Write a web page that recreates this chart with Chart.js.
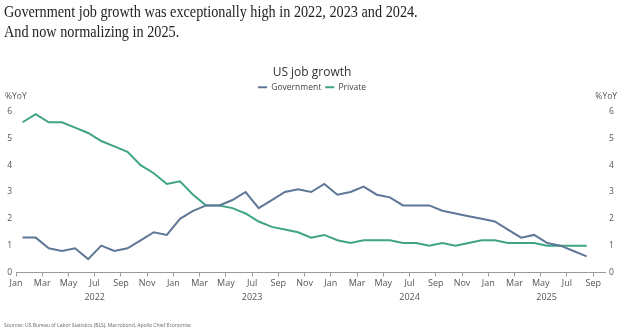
<!DOCTYPE html>
<html>
<head>
<meta charset="utf-8">
<script src="https://cdn.jsdelivr.net/npm/chart.js@4.4.1/dist/chart.umd.min.js"></script>
<style>
  html, body { margin: 0; padding: 0; background: #fff; }
  #wrap { position: relative; width: 624px; height: 331px; overflow: hidden; }
  #headline {
    position: absolute; left: 4px; top: 2px;
    font-family: "Liberation Serif", serif; font-size: 16px; line-height: 20px;
    color: #222; white-space: nowrap;
    transform: scaleX(0.89); transform-origin: 0 0;
  }
  #source {
    position: absolute; left: 4px; top: 322px;
    font-family: "Open Sans", sans-serif; font-size: 5px; color: #666; white-space: nowrap;
  }
  canvas { position: absolute; left: 0; top: 0; }
</style>
</head>
<body>
<div id="wrap">
  <canvas id="chart" width="624" height="331"></canvas>
  <div id="headline">Government job growth was exceptionally high in 2022, 2023 and 2024.<br>And now normalizing in 2025.</div>
  <div id="source">Sources: US Bureau of Labor Statistics (BLS), Macrobond, Apollo Chief Economist</div>
</div>
<script>
// monthly YoY % change, Jan 2022 .. Aug 2025
const government = [
  1.3, 1.3, 0.9, 0.8, 0.9, 0.5, 1.0, 0.8, 0.9, 1.2, 1.5, 1.4,
  2.0, 2.3, 2.5, 2.5, 2.7, 3.0, 2.4, 2.7, 3.0, 3.1, 3.0, 3.3,
  2.9, 3.0, 3.2, 2.9, 2.8, 2.5, 2.5, 2.5, 2.3, 2.2, 2.1, 2.0,
  1.9, 1.6, 1.3, 1.4, 1.1, 1.0, 0.8, 0.6
];
const privateSector = [
  5.6, 5.9, 5.6, 5.6, 5.4, 5.2, 4.9, 4.7, 4.5, 4.0, 3.7, 3.3,
  3.4, 2.9, 2.5, 2.5, 2.4, 2.2, 1.9, 1.7, 1.6, 1.5, 1.3, 1.4,
  1.2, 1.1, 1.2, 1.2, 1.2, 1.1, 1.1, 1.0, 1.1, 1.0, 1.1, 1.2,
  1.2, 1.1, 1.1, 1.1, 1.0, 1.0, 1.0, 1.0
];
const monthNames = ['Jan','Feb','Mar','Apr','May','Jun','Jul','Aug','Sep','Oct','Nov','Dec'];
const years = [2022, 2023, 2024, 2025];
const yTicks = [0, 1, 2, 3, 4, 5, 6];
// month index of each labelled tick (every other month, Jan 2022 = 0)
const monthTicks = [0, 2, 4, 6, 8, 10, 12, 14, 16, 18, 20, 22, 24, 26, 28, 30, 32, 34, 36, 38, 40, 42, 44];

const GOV = '#5f7796';
const PRIV = '#3fa386';
const AXIS = '#9a9a9a';
const TXT = '#555';

// values sit in the middle of their month
const toPoints = arr => arr.map((v, i) => ({ x: i + 0.5, y: v }));

// leave a gap between the legend row and the plot
const legendGap = {
  id: 'legendGap',
  beforeInit(chart) {
    const fit = chart.legend.fit;
    chart.legend.fit = function () {
      fit.bind(chart.legend)();
      this.height += 10;
    };
  }
};

const extras = {
  id: 'extras',
  afterDraw(chart) {
    const { ctx, scales } = chart;
    const xs = scales.x;
    ctx.save();
    ctx.fillStyle = TXT;
    ctx.font = '8.5px "Open Sans", sans-serif';
    ctx.textBaseline = 'middle';
    ctx.textAlign = 'left';
    ctx.fillText('%YoY', 5, 97);
    ctx.textAlign = 'right';
    ctx.fillText('%YoY', 617, 97);

    // year captions centred under each year's span
    ctx.font = '9px "Open Sans", sans-serif';
    ctx.textAlign = 'center';
    years.forEach((yr, k) => {
      const a = Math.max(k * 12, xs.min);
      const b = Math.min(k * 12 + 12, xs.max);
      const mid = (xs.getPixelForValue(a) + xs.getPixelForValue(b)) / 2;
      ctx.fillText(String(yr), mid, 297);
    });
    ctx.restore();
  }
};

const yAxis = (position) => ({
  type: 'linear',
  position,
  min: 0,
  max: 6,
  afterBuildTicks: s => { s.ticks = yTicks.map(v => ({ value: v })); },
  afterFit: s => { s.width = position === 'left' ? 16 : 19; },
  grid: { display: false, drawTicks: false },
  border: { display: false },
  ticks: { color: TXT, font: { family: 'Open Sans', size: 8.5 }, padding: 4 }
});

new Chart(document.getElementById('chart').getContext('2d'), {
  type: 'line',
  data: {
    datasets: [
      { label: 'Government', data: toPoints(government), borderColor: GOV, backgroundColor: GOV,
        borderWidth: 2, pointRadius: 0, tension: 0, yAxisID: 'y' },
      { label: 'Private', data: toPoints(privateSector), borderColor: PRIV, backgroundColor: PRIV,
        borderWidth: 2, pointRadius: 0, tension: 0, yAxisID: 'y' }
    ]
  },
  options: {
    responsive: false,
    animation: false,
    layout: { padding: { top: 0, left: 0, right: 0, bottom: 0 } },
    plugins: {
      title: {
        display: true,
        text: 'US job growth',
        color: '#333',
        font: { family: 'Open Sans', size: 12, weight: 'normal', lineHeight: 1 },
        padding: { top: 67, bottom: 0 }
      },
      legend: {
        display: true,
        position: 'top',
        labels: {
          color: '#444',
          font: { family: 'Open Sans', size: 8.5 },
          boxWidth: 9,
          boxHeight: 2,
          padding: 4,
          generateLabels: chart => Chart.defaults.plugins.legend.labels.generateLabels(chart)
            .map(l => Object.assign(l, { lineWidth: 0 }))
        }
      },
      tooltip: { enabled: false }
    },
    scales: {
      x: {
        type: 'linear',
        min: 0,
        max: 44.9,
        afterBuildTicks: s => { s.ticks = monthTicks.map(v => ({ value: v })); },
        afterFit: s => { s.height = 58.5; },
        grid: { display: true, drawOnChartArea: false, drawTicks: true, tickLength: 4, color: AXIS },
        border: { display: true, color: AXIS, width: 1 },
        ticks: {
          color: TXT,
          font: { family: 'Open Sans', size: 9 },
          padding: 2,
          maxRotation: 0,
          autoSkip: false,
          callback: v => monthNames[v % 12]
        }
      },
      y: yAxis('left'),
      y2: yAxis('right')
    }
  },
  plugins: [legendGap, extras]
});
</script>
</body>
</html>
